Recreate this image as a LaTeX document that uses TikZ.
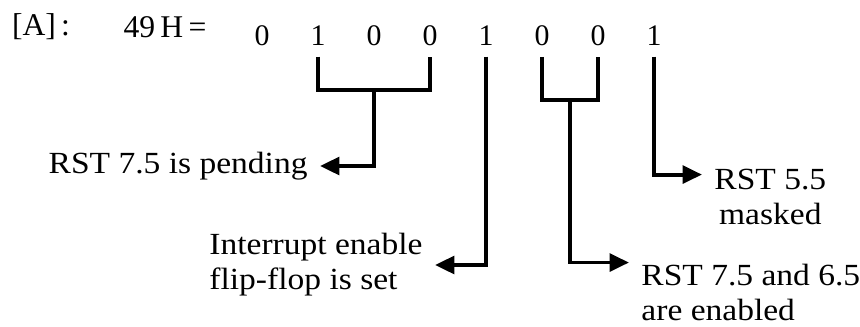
\documentclass[tikz,border=0pt]{standalone}
\usepackage{fontspec}
\setmainfont{Liberation Serif}
\newfontfamily\lblfont{Liberation Serif}[FakeStretch=1.09]
\usepackage{tikz}
\usetikzlibrary{arrows.meta}

\begin{document}
\begin{tikzpicture}[x=0.02cm,y=-0.02cm,>={Triangle[length=11pt,width=10pt]},line width=2.2pt]
\tikzstyle{head} = [inner sep=0pt, font=\fontsize{18}{21}\selectfont]
\tikzstyle{bit} = [inner sep=5pt, font=\fontsize{17}{20}\selectfont]
\tikzstyle{note} = [inner sep=6pt, align=left, font=\lblfont\fontsize{17.5}{20}\selectfont]
\tikzstyle{wire} = [line width=2.2pt]
\tikzstyle{arrow} = [wire,->]

\useasboundingbox (0,0) rectangle (860,326);

\node (reg) at (41,27) [head] {[A]\,:};
\node (hex) at (165,27) [head] {49\,H\,=};

\node (b1) at (262,36) [bit] {0};
\node (b2) at (318,36) [bit] {1};
\node (b3) at (374,36) [bit] {0};
\node (b4) at (430,36) [bit] {0};
\node (b5) at (486,36) [bit] {1};
\node (b6) at (542,36) [bit] {0};
\node (b7) at (598,36) [bit] {0};
\node (b8) at (654,36) [bit] {1};

\node (pend) at (320,166) [note, anchor=east] {RST 7.5 is pending};
\node (ie) at (435,265) [note, anchor=east] {Interrupt enable\\flip-flop is set};
\node (en) at (629,252) [note, anchor=north west] {RST 7.5 and 6.5\\are enabled};
\node (mask) at (702,157) [note, anchor=north west, align=center] {RST 5.5\\masked};

\coordinate (j1) at (374,90);
\coordinate (j2) at (570,100);

% bit 6 (SID) and bit 4 (I7.5)
\draw[wire] (b2.south) |- (j1) -| (b4.south);
\draw[arrow] (j1) |- (pend.east);

% bit 3 (IE)
\draw[arrow] (b5.south) |- (ie.east);

% bits 2,1 (M7.5, M6.5)
\draw[wire] (b6.south) |- (j2) -| (b7.south);
\draw[arrow] (j2) |- ([yshift=-6pt]en.north west);

% bit 0 (M5.5)
\draw[arrow] (b8.south) |- ([yshift=-10pt]mask.north west);

\end{tikzpicture}
\end{document}
